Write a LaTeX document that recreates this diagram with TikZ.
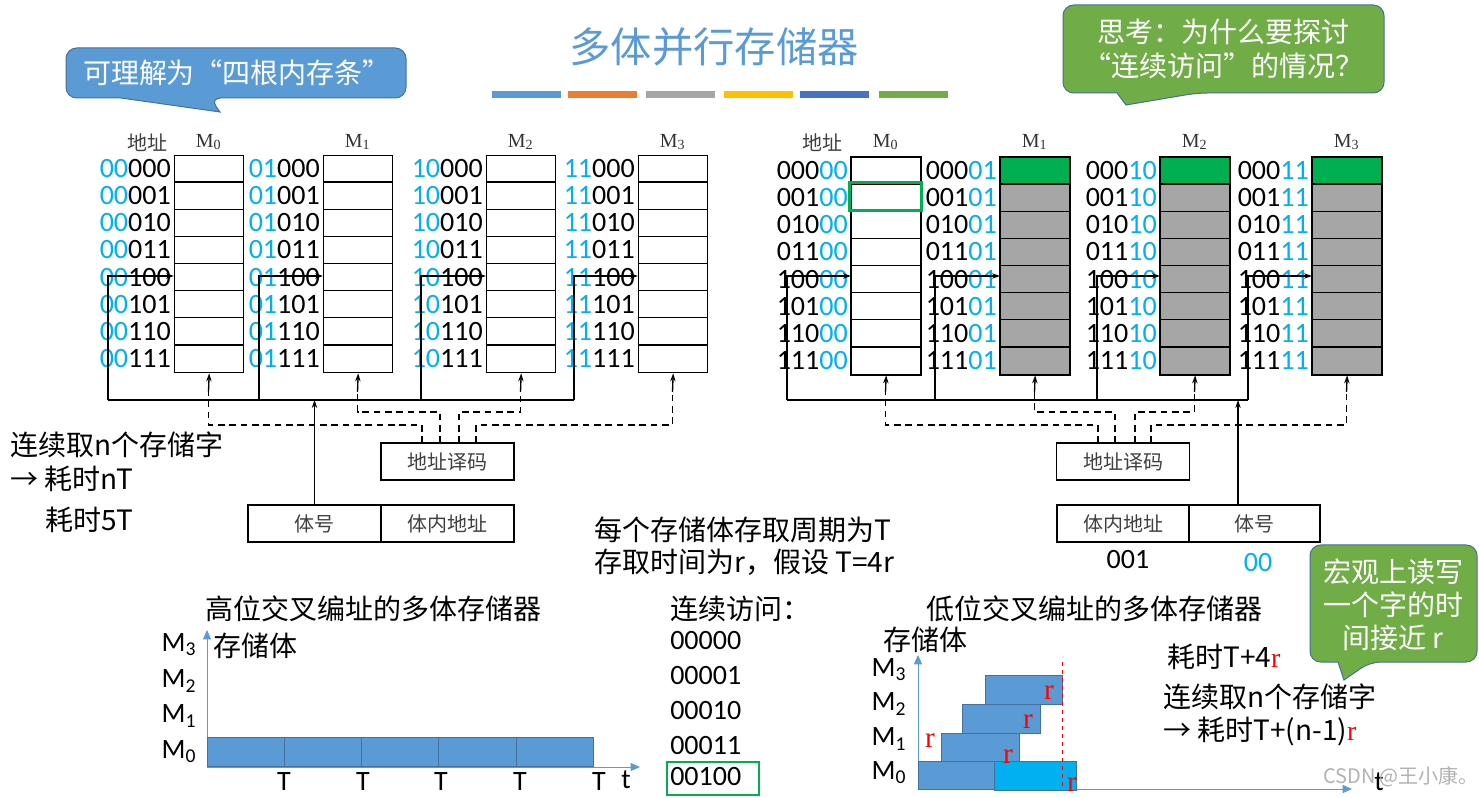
\documentclass[tikz,border=0pt]{standalone}
\usepackage{fontspec}
\setmainfont{Carlito}
\newfontfamily\cjk{Noto Sans CJK SC}
\newfontfamily\tms{Liberation Serif}
\usetikzlibrary{arrows.meta}
\definecolor{bitblue}{HTML}{00B0F0}
\definecolor{titleblue}{HTML}{5B9BD5}
\definecolor{edgeblue}{HTML}{41719C}
\definecolor{callgreen}{HTML}{70AD47}
\definecolor{cellgreen}{HTML}{00B050}
\definecolor{cellgray}{HTML}{A6A6A6}
\definecolor{orangebar}{HTML}{ED7D31}
\definecolor{yellowbar}{HTML}{FFC000}
\definecolor{navybar}{HTML}{4472C4}
\definecolor{cyanbar}{HTML}{00B0F0}

\begin{document}
\begin{tikzpicture}[x=0.75pt, y=-0.75pt,
    bank/.style={draw, line width=1pt, minimum width=51.75pt, minimum height=162.75pt, inner sep=0pt, anchor=north west},
    addr/.style={anchor=east, inner sep=0pt, font=\fontsize{21}{21}\selectfont},
    mlabel/.style={inner sep=0pt, font=\tms\fontsize{15}{15}\selectfont, text=black!80},
    small/.style={inner sep=0pt, font=\cjk\fontsize{15}{15}\selectfont, text=black!75},
    regbox/.style={draw, line width=1pt, minimum width=99.75pt, minimum height=27.75pt, inner sep=0pt, font=\cjk\fontsize{15}{15}\selectfont, text=black!75},
    cn/.style={inner sep=0pt, anchor=west, font=\cjk\fontsize{21}{24}\selectfont},
    arrow/.style={-{Stealth[length=6pt,width=4pt]}, line width=1pt},
    wire/.style={line width=1pt},
    dwire/.style={line width=1pt, dash pattern=on 5pt off 3.5pt},
    axis/.style={titleblue, line width=0.75pt, -{Triangle[length=7pt,width=6pt]}},
    bar/.style={fill=titleblue, draw=edgeblue, line width=0.75pt},
    callout/.style={draw=edgeblue, line width=0.75pt, rounded corners=8pt},
    bubble/.style={inner sep=0pt, text=white, align=center, font=\cjk\fontsize{21}{25.5}\selectfont},
    tlabel/.style={inner sep=0pt, font=\fontsize{21}{21}\selectfont},
    rr/.style={inner sep=0pt, text=red, font=\tms\fontsize{22}{22}\selectfont}
]
\useasboundingbox (0,0) rectangle (1479,798);
\fill[white] (0,0) rectangle (1479,798);

% title and colour strip
\node[font=\cjk\fontsize{31}{31}\selectfont, text=titleblue] (title) at (714,47) {多体并行存储器};
\foreach \a/\cl [count=\i] in {492/titleblue,568/orangebar,646/cellgray,724/yellowbar,800/navybar,879/callgreen}
    \fill[\cl] (\a,91) rectangle ++(69,7);

% callouts
\path[callout, fill=titleblue] (121,98) -- (66,98) -- (66,48) -- (406,48) -- (406,98) -- (210,98) [sharp corners] -- (220,112) -- cycle;
\node[bubble] (think1) at (237,73) {可理解为“四根内存条”};
\path[callout, fill=callgreen] (1117,93) -- (1063,93) -- (1063,5) -- (1384,5) -- (1384,93) -- (1197,93) [sharp corners] -- (1126,105) -- cycle;
\node[bubble] (think2) at (1223,49) {思考：为什么要探讨\\“连续访问”的情况？};
\path[callout, fill=callgreen] (1338,662) -- (1310,662) -- (1310,545) -- (1477,545) -- (1477,662) -- (1370,662) [sharp corners] -- (1344,680) -- cycle;
\node[bubble, font=\cjk\fontsize{21}{24.75}\selectfont] (think3) at (1393,605) {宏观上读写\\一个字的时\\间接近 r};

% ---------- high-order interleaving ----------
\node[small] (laddr) at (147,143) {地址};
\foreach \bx/\c [count=\j from 0] in {174/00,323/01,486/10,638/11} {
    \node[bank] (L\j) at (\bx,155) {};
    \node[mlabel] (lm\j) at ({\bx+34.5},142) {M\textsubscript{\j}};
    \foreach \k in {1,...,7}
        \draw[wire] (\bx,{155+27.125*\k}) -- ({\bx+69},{155+27.125*\k});
    \foreach \r [count=\k from 0] in {000,001,010,011,100,101,110,111}
        \node[addr] (la\j\k) at ({\bx-3},{155+27.125*(\k+0.5)}) {\textcolor{bitblue}{\c}\r};
}
\foreach \vx [count=\j from 0] in {108,259,421,574} {
    \coordinate (lv\j) at (\vx,276);
    \draw[arrow] (\vx,400) -- (lv\j) -- (lv\j -| L\j.west);
}
\coordinate (lbus) at (108,400);
\draw[wire] (lbus) -- (574,400);
\node[regbox] (ldec) at (447.5,461.5) {地址译码};
\node[regbox] (lbk) at (314.5,523.5) {体号};
\node[regbox] (lin) at (447.5,523.5) {体内地址};
\foreach \cx/\dy/\dx [count=\j from 0] in {208.5/425/422,357.5/412/440,520.5/412/459,672.5/425/476} {
    \coordinate (lu\j) at (\cx,392);
    \coordinate (ld\j) at (\dx,443);
    \draw[dwire] (ld\j) -- (\dx,\dy) -- (\cx,\dy) -- (lu\j);
    \draw[arrow] (lu\j) -- (L\j.south);
}
\draw[arrow] (lbk.north) -- (lbk.north |- lbus);

\node[cn] (lt1) at (10,445) {连续取n个存储字};
\node[cn] (lt2) at (10,479) {→ 耗时nT};
\node[cn] (lt3) at (45,520) {耗时5T};
\node[cn] (mid1) at (594,530) {每个存储体存取周期为T};
\node[cn] (mid2) at (594,562) {存取时间为r，假设 T=4r};

% ---------- low-order interleaving ----------
\node[small] (raddr) at (822,143) {地址};
\foreach \bx/\c/\fc [count=\j from 0] in {851/00/white,1000/01/cellgray,1160/10/cellgray,1312/11/cellgray} {
    \node[bank, fill=\fc] (R\j) at (\bx,157) {};
    \node[mlabel] (rm\j) at ({\bx+34.5},142) {M\textsubscript{\j}};
    \foreach \r [count=\k from 0] in {000,001,010,011,100,101,110,111}
        \node[addr] (ra\j\k) at ({\bx-3},{157+27.125*(\k+0.5)}) {\r\textcolor{bitblue}{\c}};
}
\foreach \bx in {1000,1160,1312}
    \fill[cellgreen] (\bx,157) rectangle ++(69,27.125);
\foreach \bx [count=\j from 0] in {851,1000,1160,1312} {
    \foreach \k in {1,...,7}
        \draw[wire] (\bx,{157+27.125*\k}) -- ({\bx+69},{157+27.125*\k});
    \draw[wire] (R\j.north west) rectangle (R\j.south east);
}
\draw[cellgreen, line width=2.25pt] (849,183) rectangle (921,211);
\foreach \vx [count=\j from 0] in {787,935,1097,1248} {
    \coordinate (rv\j) at (\vx,276);
    \draw[arrow] (\vx,400) -- (rv\j) -- (rv\j -| R\j.west);
}
\coordinate (rbus) at (1238,400);
\draw[wire] (787,400) -- (1248,400);
\node[regbox] (rdec) at (1123,461.5) {地址译码};
\node[regbox, minimum width=99pt] (rin) at (1123,523.5) {体内地址};
\node[regbox, minimum width=98.25pt] (rbk) at (1254.5,523.5) {体号};
\foreach \cx/\dy/\dx [count=\j from 0] in {885.5/425/1098,1034.5/412/1115,1194.5/412/1135,1346.5/425/1151} {
    \coordinate (ru\j) at (\cx,392);
    \coordinate (rd\j) at (\dx,443);
    \draw[dwire] (rd\j) -- (\dx,\dy) -- (\cx,\dy) -- (ru\j);
    \draw[arrow] (ru\j) -- (R\j.south);
}
\coordinate (rup) at (1238,505);
\draw[arrow] (rup) -- (rbus);
\node[tlabel] (rin0) at (1128,560) {001};
\node[tlabel, text=bitblue] (rbk0) at (1258,563) {00};

% ---------- timing, high-order ----------
\node[cn] (htitle) at (205,609) {高位交叉编址的多体存储器};
\coordinate (ho) at (207,767);
\draw[axis] (ho) -- (207,630);
\draw[axis] (ho) -- (640,767);
\node[cn] (hbank) at (213,646) {存储体};
\foreach \yy/\m in {752/0,716/1,681/2,645/3}
    \node[tlabel] (hm\m) at (179,\yy) {M\textsubscript{\m}};
\foreach \a/\b in {207/284,284/361,361/438,438/516,516/593}
    \draw[bar] (\a,737) rectangle (\b,766);
\foreach \tx [count=\i] in {284,363,441,520,599}
    \node[tlabel] (ht\i) at (\tx,782) {T};
\node[tlabel] (ht) at (626,780) {t};

\node[cn] (seq) at (670,609) {连续访问：};
\foreach \s/\yy [count=\i] in {00000/641,00001/676,00010/711,00011/746,00100/777}
    \node[tlabel, anchor=west] (sq\i) at (670,\yy) {\s};
\draw[cellgreen, line width=1.9pt] (667,762) rectangle (759,795);

% ---------- timing, low-order ----------
\node[cn] (ltitle) at (926,609) {低位交叉编址的多体存储器};
\coordinate (lo) at (918,789);
\draw[axis] (lo) -- (918,655);
\draw[axis] (lo) -- (1352,789);
\node[cn] (lbank) at (883,640) {存储体};
\foreach \yy/\m in {773/0,739/1,704/2,670/3}
    \node[tlabel] (lmm\m) at (889,\yy) {M\textsubscript{\m}};
\draw[bar] (918,761) rectangle (994,789);
\draw[bar, fill=cyanbar] (994,761) rectangle (1076,790);
\draw[bar] (941,733) rectangle (1019,761);
\draw[bar] (962,704) rectangle (1040,733);
\draw[bar] (985,675) rectangle (1062,704);
\draw[red, line width=0.6pt, dashed] (1062,662) -- (1062,790);
\node[rr] (r1) at (930,741) {r};
\node[rr] (r2) at (1049,693) {r};
\node[rr] (r3) at (1028,722) {r};
\node[rr] (r4) at (1008,757) {r};
\node[rr] (r5) at (1072,785) {r};
\node[tlabel] (lt) at (1379,782) {t};

\node[cn] (cost1) at (1167,657) {耗时T+4{\tms\color{red}r}};
\node[cn] (cost2) at (1163,697) {连续取n个存储字};
\node[cn] (cost3) at (1163,731) {→ 耗时T+(n-1){\tms\color{red}r}};

\node[inner sep=0pt, text=black!30, font=\cjk\fontsize{15}{15}\selectfont] (mark) at (1401,777) {CSDN @王小康。};
\end{tikzpicture}
\end{document}
